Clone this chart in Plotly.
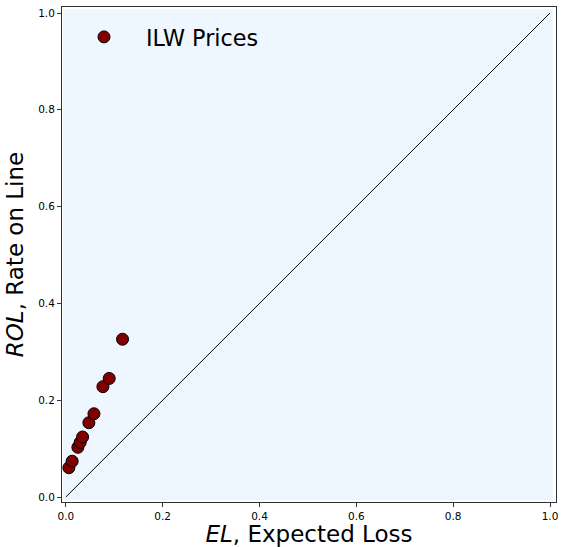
import plotly.graph_objects as go

# Data
el = [0.0062, 0.013, 0.0248, 0.0296, 0.0345, 0.0475, 0.058, 0.0765, 0.0895, 0.117]
rol = [0.0605, 0.074, 0.1027, 0.113, 0.124, 0.1535, 0.172, 0.228, 0.245, 0.326]
diag_x = [0.0, 1.0]
diag_y = [0.0, 1.0]
tick_vals = [0.0, 0.2, 0.4, 0.6, 0.8, 1.0]
tick_text = ["0.0", "0.2", "0.4", "0.6", "0.8", "1.0"]

FONT = "DejaVu Sans"

fig = go.Figure()

fig.add_trace(go.Scatter(
    x=diag_x, y=diag_y, mode="lines",
    line=dict(color="black", width=1),
    showlegend=False, hoverinfo="skip",
))

fig.add_trace(go.Scatter(
    x=el, y=rol, mode="markers", name="ILW Prices",
    marker=dict(color="#800000", size=12, line=dict(color="black", width=1)),
))

fig.add_shape(type="rect", xref="x", yref="y",
              x0=-0.006, x1=1.006, y0=-0.006, y1=1.008,
              fillcolor="#eef6ff", line=dict(width=0), layer="below")

axis_common = dict(
    showgrid=False, zeroline=False, automargin=False,
    showline=True, linecolor="#333333", linewidth=1, mirror=True,
    ticks="outside", ticklen=4, tickcolor="#333333", tickwidth=1,
    tickvals=tick_vals, ticktext=tick_text,
    tickfont=dict(family=FONT, size=10.5, color="black"),
)

fig.update_layout(
    width=561, height=547,
    margin=dict(l=62, r=5, t=7, b=45),
    paper_bgcolor="white", plot_bgcolor="white",
    font=dict(family=FONT, color="black"),
    xaxis=dict(range=[-0.008, 1.0124],
               title=dict(text="<i>EL</i>, Expected Loss",
                          font=dict(family=FONT, size=23), standoff=4),
               **axis_common),
    yaxis=dict(range=[-0.0103, 1.0124],
               title=dict(text="<i>ROL</i>, Rate on Line",
                          font=dict(family=FONT, size=23), standoff=8),
               **axis_common),
    legend=dict(x=0.0, y=0.982, xanchor="left", yanchor="top",
                bgcolor="rgba(0,0,0,0)", borderwidth=0,
                itemwidth=74,
                font=dict(family=FONT, size=22.3)),
    showlegend=True,
)

fig.write_html("out.html",
               config={"displayModeBar": False},
               post_script="document.body.style.margin='0';document.body.style.overflow='hidden';")
